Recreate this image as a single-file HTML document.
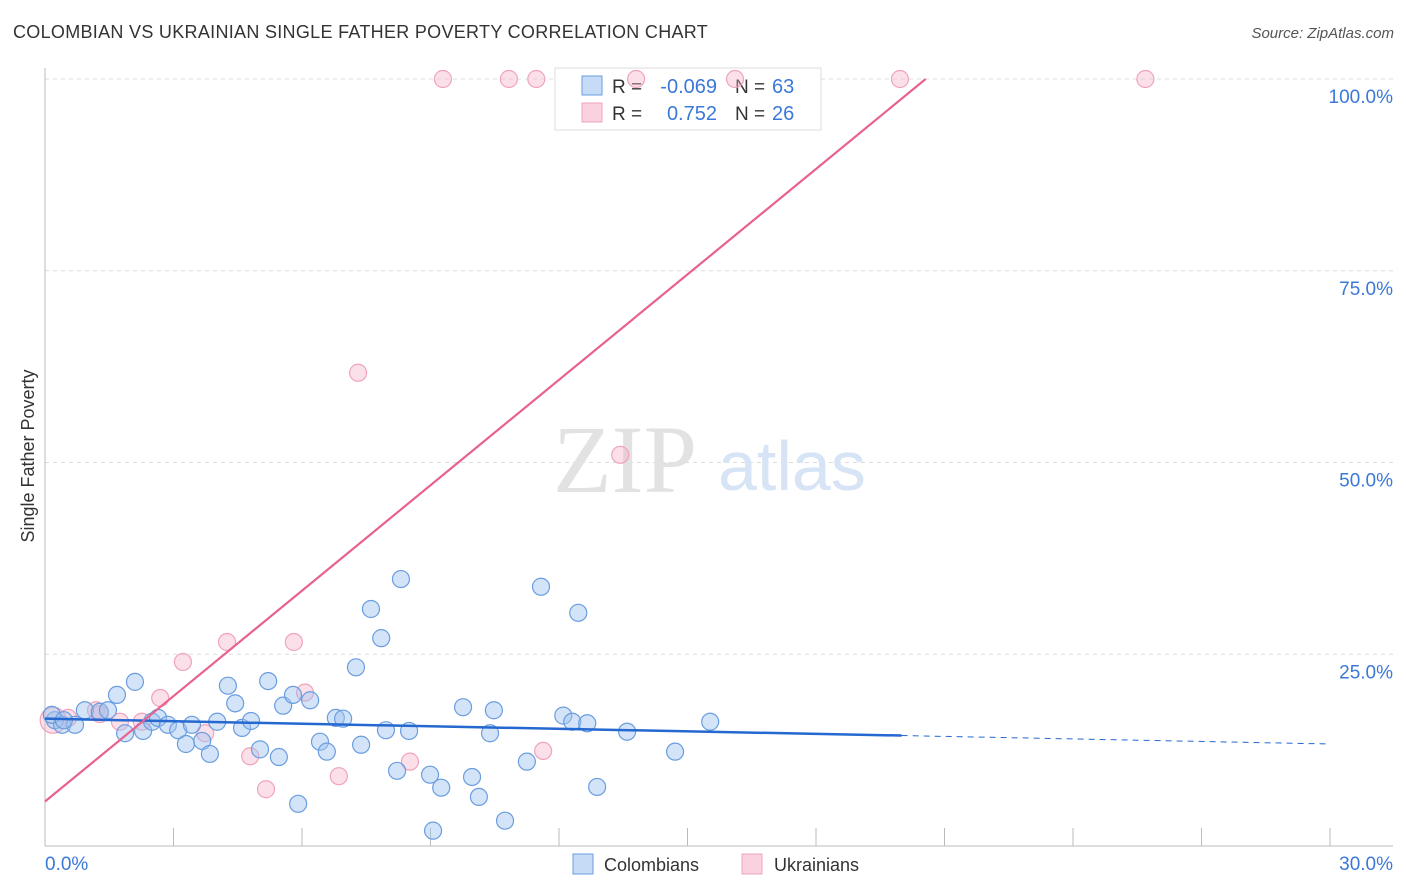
<!DOCTYPE html>
<html><head><meta charset="utf-8"><style>
body{margin:0;background:#fff;font-family:"Liberation Sans",sans-serif;}
#wrap{position:relative;width:1406px;height:892px;overflow:hidden;}
.t{position:absolute;white-space:nowrap;}
</style></head><body>
<div id="wrap">
<div class="t" style="left:13px;top:22px;font-size:18px;color:#333;letter-spacing:0.3px">COLOMBIAN VS UKRAINIAN SINGLE FATHER POVERTY CORRELATION CHART</div>
<div class="t" style="right:12px;top:25px;font-size:15px;color:#555;font-style:italic">Source: ZipAtlas.com</div>
<svg id="svg" width="1406" height="892" style="position:absolute;left:0;top:0"></svg>
</div>
<script>
const xTicks=[0,30];
const yTicks=[25,50,75,100];
const blueX=[0.23,0.40,0.70,0.93,1.28,1.47,1.68,1.87,2.10,2.29,2.50,2.64,2.87,3.11,3.29,3.43,3.67,3.85,4.02,4.27,4.44,4.60,4.81,5.02,5.21,5.46,5.56,5.79,5.91,6.19,6.42,6.58,6.79,6.96,7.26,7.38,7.61,7.85,7.96,8.22,8.31,8.50,8.99,9.06,9.25,9.76,9.97,10.13,10.48,10.39,10.74,11.25,11.58,12.10,12.31,12.45,12.66,12.89,13.59,14.71,15.53,0.16,0.44];
const blueY=[16.4,15.8,15.8,17.7,17.5,17.7,19.7,14.7,21.4,15.0,16.2,16.7,15.8,15.1,13.3,15.8,13.7,12.0,16.2,20.9,18.6,15.4,16.3,12.6,21.5,11.6,18.3,19.7,5.5,19.0,13.6,12.3,16.7,16.6,23.3,13.2,30.9,27.1,15.1,9.8,34.8,15.0,9.3,2.0,7.6,18.1,9.0,6.4,17.7,14.7,3.3,11.0,33.8,17.0,16.2,30.4,16.0,7.7,14.9,12.3,16.2,17.1,16.4];
const pinkX=[0.19,0.54,1.19,1.75,2.26,2.69,3.22,3.74,4.25,4.79,5.16,5.81,6.07,6.86,7.31,8.52,11.63,13.43,9.29,10.83,11.47,13.80,16.11,19.96,25.69,1.28];
const pinkY=[16.4,16.7,17.7,16.2,16.2,19.3,24.0,14.7,26.6,11.7,7.4,26.6,20.0,9.1,61.7,11.0,12.4,51.0,100,100,100,100,100,100,100,17.2];
const blueTrendX=[0,20.0,30];
const blueTrendY=[16.6,14.4,13.3];
const pinkTrendX=[0,20.56];
const pinkTrendY=[5.8,100];
const X0=45,X1=1330,Y0=846,Y100=79;
const sx=v=>X0+(X1-X0)*v/30;
const sy=v=>Y0-(Y0-Y100)*v/100;
const svg=document.getElementById('svg');
const NS='http://www.w3.org/2000/svg';
function mk(tag,attrs,parent){const e=document.createElementNS(NS,tag);for(const k in attrs)e.setAttribute(k,attrs[k]);(parent||svg).appendChild(e);return e;}
yTicks.forEach(v=>{
 const g=mk('line',{x1:X0,x2:1393,y1:sy(v),y2:sy(v),stroke:'#dcdcdc','stroke-dasharray':'4,4'});
 
 
 const t=mk('text',{x:1393,y:sy(v)+24,'text-anchor':'end','font-size':19,fill:'#3b78d8','font-family':'Liberation Sans'});
 t.textContent=v.toFixed(1)+'%';
 
 
});
const w1=mk('text',{x:553,y:492,'font-size':96,fill:'#e2e2e2','font-family':'Liberation Serif'});w1.textContent='ZIP';


const w2=mk('text',{x:718,y:490,'font-size':70,fill:'#d6e4f6','font-family':'Liberation Sans'});w2.textContent='atlas';


const ax=mk('line',{x1:X0,x2:X0,y1:68,y2:Y0,stroke:'#bbb'});


const bx=mk('line',{x1:X0,x2:1393,y1:Y0,y2:Y0,stroke:'#bbb'});


for(let i=1;i<=10;i++){const tk=mk('line',{x1:sx(i*3),x2:sx(i*3),y1:828,y2:Y0,stroke:'#bbb'});
 
 }
xTicks.forEach(v=>{const t=mk('text',{x:v===0?45:1393,y:870,'text-anchor':v===0?'start':'end','font-size':19,fill:'#3b78d8','font-family':'Liberation Sans'});t.textContent=v.toFixed(1)+'%';
 
 });
const yl=mk('text',{x:0,y:0,'font-size':18,fill:'#333','font-family':'Liberation Sans','text-anchor':'middle',transform:'translate(34,456) rotate(-90)'});yl.textContent='Single Father Poverty';


// legend box (drawn before points so top-row points show over it)
const lg=mk('g',{});


mk('rect',{x:555,y:68,width:266,height:62,fill:'#fff',stroke:'#ddd'},lg);
mk('rect',{x:582,y:76,width:20,height:19,fill:'rgba(160,196,240,0.6)',stroke:'#6a9de0'},lg);
mk('rect',{x:582,y:103,width:20,height:19,fill:'rgba(246,178,200,0.6)',stroke:'#f0a3bb'},lg);
[[93,'-0.069','63'],[120,'0.752','26']].forEach((r,i)=>{
 const a=mk('text',{x:612,y:r[0],'font-size':19,fill:'#333','font-family':'Liberation Sans'},lg);a.textContent='R =';
 const b=mk('text',{x:717,y:r[0],'font-size':20,fill:'#3b78d8','text-anchor':'end','font-family':'Liberation Sans'},lg);b.textContent=r[1];
 const c=mk('text',{x:735,y:r[0],'font-size':19,fill:'#333','font-family':'Liberation Sans'},lg);c.textContent='N =';
 const d=mk('text',{x:772,y:r[0],'font-size':20,fill:'#3b78d8','font-family':'Liberation Sans'},lg);d.textContent=r[2];
});
pinkX.forEach((x,i)=>{const c=mk('circle',{cx:sx(x),cy:sy(pinkY[i]),r:i===0?13:8.5,fill:'rgba(246,178,200,0.4)',stroke:'#f0a3bb','stroke-width':1.2});
 
 });
blueX.forEach((x,i)=>{const c=mk('circle',{cx:sx(x),cy:sy(blueY[i]),r:8.5,fill:'rgba(160,196,240,0.45)',stroke:'#6a9de0','stroke-width':1.2});
 
 });
const bt=mk('line',{x1:sx(blueTrendX[0]),y1:sy(blueTrendY[0]),x2:sx(blueTrendX[1]),y2:sy(blueTrendY[1]),stroke:'#2468d0','stroke-width':2.5});


const bd=mk('line',{x1:sx(blueTrendX[1]),y1:sy(blueTrendY[1]),x2:sx(blueTrendX[2]),y2:sy(blueTrendY[2]),stroke:'#2468d0','stroke-width':1,'stroke-dasharray':'6,5'});


const pt=mk('line',{x1:sx(pinkTrendX[0]),y1:sy(pinkTrendY[0]),x2:sx(pinkTrendX[1]),y2:sy(pinkTrendY[1]),stroke:'#e8628e','stroke-width':2.2});


const b1=mk('rect',{x:573,y:854,width:20,height:20,fill:'rgba(160,196,240,0.6)',stroke:'#6a9de0'});


const bt1=mk('text',{x:604,y:871,'font-size':18,fill:'#333','font-family':'Liberation Sans'});bt1.textContent='Colombians';


const b2=mk('rect',{x:742,y:854,width:20,height:20,fill:'rgba(246,178,200,0.6)',stroke:'#f0a3bb'});


const bt2=mk('text',{x:774,y:871,'font-size':18,fill:'#333','font-family':'Liberation Sans'});bt2.textContent='Ukrainians';


</script>
</body></html>
